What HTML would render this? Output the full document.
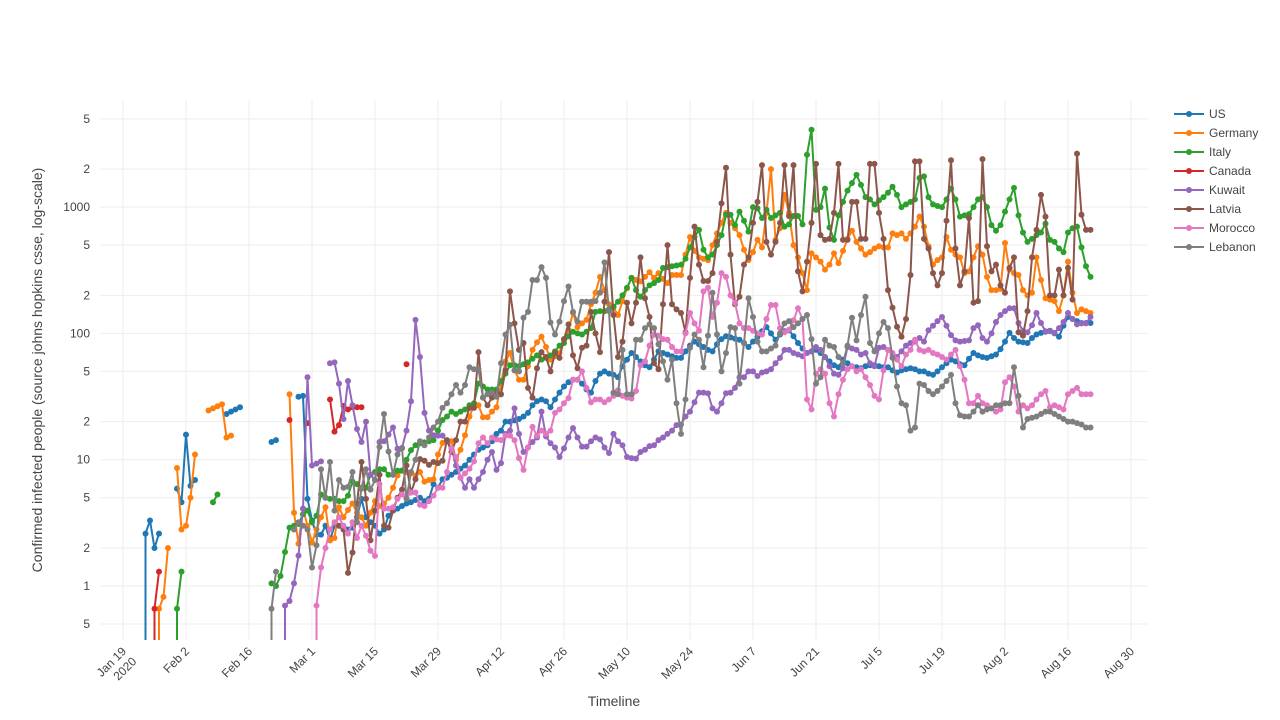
<!DOCTYPE html>
<html><head><meta charset="utf-8"><title>Confirmed infected people</title>
<style>
body{margin:0;background:#fff;}
svg{display:block;font-family:"Liberation Sans",sans-serif;}
</style></head>
<body>
<svg id="chart" width="1280" height="720" viewBox="0 0 1280 720" xmlns="http://www.w3.org/2000/svg">
<defs><clipPath id="plotclip"><rect x="100" y="100" width="1048" height="540"/></clipPath></defs>
<rect width="1280" height="720" fill="#fff"/>
<g id="grid"></g>
<g id="ylabels" font-size="12" fill="#444" text-anchor="end"></g>
<g id="xlabels" font-size="12" fill="#444"></g>
<g id="series" clip-path="url(#plotclip)"></g>
<text x="0" y="0" transform="translate(42,370) rotate(-90)" text-anchor="middle" font-size="14" fill="#444">Confirmed infected people (source johns hopkins csse, log-scale)</text>
<text x="614" y="706" text-anchor="middle" font-size="14" fill="#444">Timeline</text>
<g id="legend" font-size="12" fill="#444"></g>
</svg>
<script>
// Day 0 = Jan 19 2020. 0 value = drops to zero (off log axis), null = gap.
const xTickDays = [0,14,28,42,56,70,84,98,112,126,140,154,168,182,196,210,224];
const xTickLabels = ["Jan 19|2020","Feb 2","Feb 16","Mar 1","Mar 15","Mar 29","Apr 12","Apr 26","May 10","May 24","Jun 7","Jun 21","Jul 5","Jul 19","Aug 2","Aug 16","Aug 30"];
const yTickValues = [0.5,1,2,5,10,20,50,100,200,500,1000,2000,5000];
const yTickLabels = ["5","1","2","5","10","2","5","100","2","5","1000","2","5"];
const seriesNames = ["US","Germany","Italy","Canada","Kuwait","Latvia","Morocco","Lebanon"];
const seriesColors = ["#1f77b4","#ff7f0e","#2ca02c","#d62728","#9467bd","#8c564b","#e377c2","#7f7f7f"];

const usStart = 4;
const usValues = [0,2.6,3.3,2.0,2.6,null,null,null,5.9,4.6,15.8,6.2,6.9,null,null,null,null,null,null,23,24,25,26,null,null,null,null,null,null,13.8,14.3,null,null,null,null,31.5,32,
4.9,3.3,2.55,2.55,3,2.3,3,3,2.9,2.8,2.9,3.5,4.9,3.5,3.2,3,2.6,2.8,3.6,3.95,4.1,4.3,4.5,4.6,4.8,5,4.7,4.9,6.4,
6,7,7.2,7.6,8,8.5,9,10,11,12,12.5,13,14,16,17,20,20,20.5,21,22,23.5,27,29,30,29,26,30,34,38,41,43,43,40,36,34,42,48,50,48,47,45,55,62,70,65,60,56,54,62,72,70,68,66,64,64,72,80,86,82,78,74,72,82,90,95,93,91,89,84,78,86,94,104,112,100,89,98,104,106,95,84,76,70,72,74,70,65,60,56,54,62,58,55,54,53,55,56,56,55,54,54,51,49,51,52,53,52,50,50,48,47,50,54,58,62,60,57,56,63,70,67,65,64,66,68,75,86,101,92,86,85,84,92,98,101,103,105,100,94,115,135,130,125,121,121,121];

const deStart = 7;
const deValues = [0,0.66,0.82,2,null,8.6,2.8,3,5,11,null,null,24.5,25.5,26.5,27.5,15,15.5,null,null,null,null,null,null,null,null,null,null,null,null,
33,3.8,2.16,4.1,3,2.2,2.8,3.5,4.2,2.3,2.4,4.2,3.5,4,4.5,3.8,
3.5,3,3.8,4.7,4.3,4.5,5,6,7.5,8.2,8,7.8,7.5,8,6.7,6.9,7,11,13.6,14,14,10,12,15.6,22,27,27,21.7,21.7,24,26,40,60,70,51,43,43,55,74,85,94,78,62,66,70,90,107,145,112,120,128,170,210,280,220,170,160,140,180,228,275,265,258,280,305,275,300,270,250,290,290,290,420,580,450,400,390,380,500,620,750,900,750,680,600,460,380,440,550,480,900,2000,550,680,1250,900,500,400,300,220,430,400,370,320,350,430,360,450,560,650,530,470,420,440,470,490,480,480,620,600,620,560,620,700,840,700,490,350,380,400,580,460,420,400,300,310,400,490,420,280,220,220,225,520,320,300,290,220,200,210,400,265,190,185,180,150,200,370,210,145,155,150,145];

const itStart = 11;
const itValues = [0,0.66,1.3,null,null,null,null,null,null,4.6,5.3,null,null,null,null,null,null,null,null,null,null,null,
1.05,1.0,1.2,1.86,2.9,3.0,3.1,3.7,3.95,3.2,3.6,5.3,5,4.9,4.9,4.7,4.7,5.2,6.7,6.4,5.9,6,7.6,8,8.4,8.4,7.6,7.6,8.2,8.2,10,11.9,13,13.5,13.7,14,14.3,
17,20.6,22,24,23,24,25,27,28,40,38,36,36,36,42,48,56,56,55,57,59,63,67,62,64,67,72,80,84,95,103,100,98,103,110,148,150,150,155,163,178,200,230,275,220,195,220,240,250,265,330,335,340,345,350,390,480,580,660,460,400,420,500,600,870,870,720,920,780,640,
1000,980,820,950,820,860,900,700,730,850,850,730,2600,4100,950,1000,1400,690,550,860,1100,1350,1550,1800,1500,1200,1150,1050,1130,1200,1300,1450,1250,1000,1050,1100,1150,1700,1750,1200,1050,1020,1000,1150,1400,1150,840,860,880,1000,1150,1200,1000,720,650,720,920,1150,1420,860,630,530,560,600,630,740,550,530,470,440,630,680,700,480,340,280];

const caStart = 6;
const caValues = [0,0.66,1.3,null,null,null,null,null,null,null,null,null,null,null,null,null,null,null,null,null,null,null,null,null,null,null,null,null,null,null,null,
20.6,null,null,null,19.5,null,null,null,null,30,16.7,18.8,26.6,25,26,26,26,null,null,null,null,null,null,null,null,null,57];

const kwStart = 35;
const kwValues = [0,0.7,0.76,1.05,1.74,4.1,45,9,9.3,9.7,null,58,59,40,21,42,27,17.5,13.8,20,7.6,6.9,13.8,14,15.8,18,12.2,12.4,17,29,128,65,
23.5,17,15.6,15.5,15.5,14,12.3,9,7.2,6,7,6,7,8,10,11.5,8.3,9.4,16,17,25.5,16,11.5,12.5,13.8,15,24,15.3,13.5,12.5,10.5,12.3,15,17.8,15,12.7,12.7,14,15,14.5,12.5,11.3,16,14,13,10.5,10.3,10.2,11.5,12,12.8,13,14.3,15,16,17,18.8,19,22,24,28.5,34,34,33.5,25.5,24,28,33.6,34,37,45,45,50,
50,46,49,50,52,58,64,74,74,70,68,66,70,72,78,74,65,55,48,47,53,78,76,74,68,70,58,55,77,78,74,68,65,72,80,84,86,92,86,106,115,125,135,115,97,88,86,87,88,110,116,92,86,100,123,140,150,158,158,121,105,102,116,145,121,104,104,101,110,123,145,130,118,120,120,135];

const lvStart = 48;
const lvValues = [3,2.8,1.27,1.84,4.5,9.6,4.9,2.3,3.95,7.6,3.0,2.9,3.95,5,5.8,9,5.5,7,10.1,9.8,9.1,9.6,
9.4,9.8,14.3,11.5,14.3,20,20,25.7,25.7,71,31,27,31,34,33,51,215,120,74,84,37,31,53,71,65,50,70,64,90,118,67,53,77,80,148,100,71,178,440,140,65,86,175,120,175,400,190,135,58,52,170,500,170,155,145,102,275,700,350,260,260,300,530,1070,2050,420,170,195,350,400,
750,1100,2150,530,420,530,750,2150,850,2150,310,215,370,750,2200,600,550,560,900,2200,550,550,1100,1100,560,560,2200,2200,900,560,220,160,113,94,130,290,2300,2300,560,470,300,240,300,780,2350,470,240,310,820,175,180,2400,490,310,350,240,210,330,400,102,96,150,400,660,1250,840,200,200,320,200,330,185,2650,870,660,660];

const maStart = 42;
const maValues = [0,0.7,1.4,2,2.8,3.2,3.5,3,2.6,3.2,2.4,3,2.5,1.9,1.73,6.4,4.1,4.1,4.2,4.9,5.3,5,5.5,5.5,4.4,4.3,4.7,5.2,
6,6,8,12.3,10.5,7.2,7.8,8.5,9.7,13.5,15,13.5,15,14.5,14.3,15.5,15.5,14.3,10.3,8.3,12.5,18.2,15.5,17,16,17,23.5,25,28,30.7,43,43,50,37,28.5,30,30,28.5,30,32,35.5,32,31,30.5,35,56,60,80,98,96,90,89,78,72,72,100,145,120,105,215,230,135,175,300,280,200,175,120,110,110,
105,100,98,130,168,168,110,102,107,127,158,130,30,25,48,52,48,28,22,33,43,52,55,50,52,45,39,32,30,51,74,70,62,55,68,74,89,74,72,74,70,68,65,62,68,74,55,43,28,28,32,28,27,25.5,24,25,41,45,38,24,27,25.5,27,30,33,35,26,27,26,25,33,35,37,33,33,33];

const lbStart = 32;
const lbValues = [0,0.66,1.3,null,null,null,2.8,3.2,3,2.8,1.4,2.1,8.4,5,9.6,3.95,6.9,6,6.1,8,3.2,6,8.4,5.8,6.9,12.6,23,11.6,7.6,11,12.3,4.9,8,10,14,13,15,18,
20,25.7,28,33,39,34,39,54,52,52,31,33,34,31.5,58,98,117,51,50,133,148,265,265,335,275,122,98,124,180,235,148,124,178,178,178,180,210,365,150,34,33,74,33,33,89,89,110,118,110,82,60,43,62,28,16,30,77,98,89,54,96,210,98,50,70,112,110,40,84,190,
135,86,72,72,76,80,100,120,125,112,120,130,140,90,40,45,89,80,78,65,58,80,133,88,140,195,84,72,100,123,110,64,38,28,27,17,18,40,39,35,33,35,38,42,47,28,22.5,22,22,24,27,24,25,25.5,27,27,28,28,54,32,18,21,21.5,22,23,24,24,23,22,21,20,20,19.5,19,18,18];

const seriesStarts = [usStart,deStart,itStart,caStart,kwStart,lvStart,maStart,lbStart];
const seriesValues = [usValues,deValues,itValues,caValues,kwValues,lvValues,maValues,lbValues];

const PL=100, PR=1148, PT=100, PB=640;
const dMin = -23/4.5, dMax = dMin + 1048/4.5;
function xScale(d){ return PL + (d - dMin) / (dMax - dMin) * (PR - PL); }
function yScale(v){ return 586 - 126.3 * Math.log10(v); }
const NS = "http://www.w3.org/2000/svg";
function mk(tag, attrs, parent){ const e=document.createElementNS(NS,tag); for(const k in attrs) e.setAttribute(k,attrs[k]); parent.appendChild(e); return e; }

const grid=document.getElementById('grid');
yTickValues.forEach((v,i)=>{
  const y=yScale(v);
  const gl=mk('line',{x1:PL,x2:PR,y1:y,y2:y,stroke:'#eee','stroke-width':1},grid);
  
  
  const t=mk('text',{x:90,y:y+4},document.getElementById('ylabels'));
  
  
  t.textContent=yTickLabels[i];
});
xTickDays.forEach((d,i)=>{
  const x=xScale(d);
  const gl=mk('line',{x1:x,x2:x,y1:PT,y2:PB,stroke:'#eee','stroke-width':1},grid);
  
  
  const t=mk('text',{x:0,y:0,'text-anchor':'end',transform:`translate(${x+4},${PB+12}) rotate(-45)`},document.getElementById('xlabels'));
  
  
  const parts=xTickLabels[i].split('|');
  parts.forEach((p,j)=>{ const ts=mk('tspan',{x:0,dy:j?'1.2em':'0'},t); ts.textContent=p; });
});

const sg=document.getElementById('series');
seriesNames.forEach((name,si)=>{
  const g=mk('g',{},sg);
  
  
  const col=seriesColors[si], start=seriesStarts[si], vals=seriesValues[si];
  let path='', open=false, drop=false; const pts=[];
  vals.forEach((v,i)=>{
    const d=start+i;
    if(v===null){ open=false; drop=false; return; }
    if(v===0){ open=false; drop=true; return; }
    const x=xScale(d), y=yScale(v);
    if(!open){ path += drop ? `M${x},${PB+20}L${x},${y}` : `M${x},${y}`; open=true; drop=false; }
    else path += `L${x},${y}`;
    pts.push([x,y]);
  });
  const p=mk('path',{d:path,fill:'none',stroke:col,'stroke-width':2,'stroke-linejoin':'round'},g);
  
  
  pts.forEach(([x,y])=>{
    const c=mk('circle',{cx:x,cy:y,r:3,fill:col},g);
    
    
  });
});

const lg=document.getElementById('legend');
seriesNames.forEach((name,i)=>{
  const y=114+i*19;
  const e=mk('g',{},lg);
  
  
  mk('line',{x1:1174,x2:1204,y1:y,y2:y,stroke:seriesColors[i],'stroke-width':2},e);
  mk('circle',{cx:1189,cy:y,r:3,fill:seriesColors[i]},e);
  const t=mk('text',{x:1209,y:y+4},e);
  t.textContent=name;
});
</script>
</body></html>
